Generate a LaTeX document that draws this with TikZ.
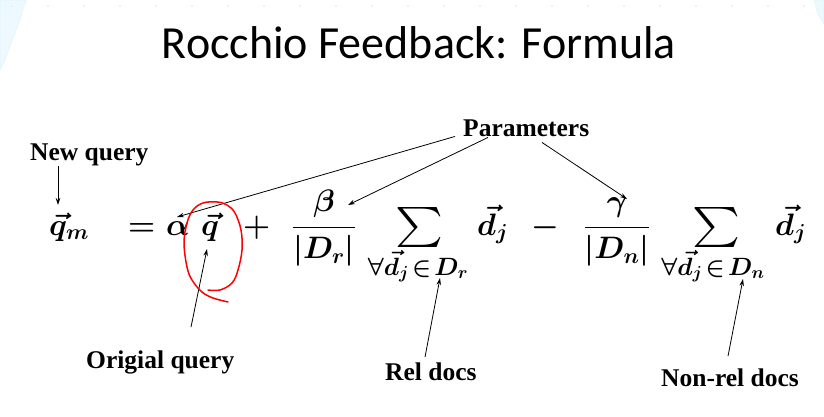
\documentclass[tikz,border=0pt]{standalone}
\usepackage{fix-cm}
\usepackage{amsmath}
\usepackage{graphicx}
\usepackage{fontspec}
\setmainfont{Liberation Serif}
\newfontfamily\titlefont{Carlito}
\usetikzlibrary{arrows.meta}
\begin{document}
\begin{tikzpicture}[x=1pt,y=-1pt,
  lbl/.style={font=\fontsize{25.5}{28}\selectfont\bfseries, inner sep=0pt, anchor=base west},
  fm/.style={font=\fontsize{31}{36}\selectfont\boldmath, inner sep=0pt, anchor=base west},
  fmc/.style={fm, anchor=base},
  sumsym/.style={inner sep=0pt, anchor=north},
  subs/.style={font=\fontsize{25}{28}\selectfont\boldmath, inner sep=0pt, anchor=base},
  arr/.style={line width=0.8pt, -{Stealth[length=7pt,width=4.5pt]}},
  loop/.style={red, line width=1.5pt, line cap=round, line join=round},
  deco/.style={fill=cyan!7, draw=cyan!12, line width=0.6pt},
  dot/.style={fill=black!10}]
\useasboundingbox (0,0) rectangle (824,417);
\fill[white] (0,0) rectangle (824,417);
% faint background decoration
\path[deco] (0,0) -- (26,0) -- (17,28) -- (4,62) -- (0,70) -- cycle;
\path[deco] (814,0) -- (824,0) -- (824,24) -- (818,14) -- cycle;
\foreach \i in {0,...,22} {\fill[dot] (12+36*\i,6) circle (0.9pt);}
% title
\node[font=\titlefont\fontsize{46}{50}\selectfont, anchor=base, inner sep=0pt] (title) at (419,59) {Rocchio Feedback: Formula};
% labels
\node[lbl] (newq) at (30,160) {New query};
\node[lbl] (params) at (463,136) {Parameters};
\node[lbl] (orig) at (86,368) {Origial query};
\node[lbl] (rel) at (385,380) {Rel docs};
\node[lbl] (nonrel) at (661,386) {Non-rel docs};
% formula
\node[fm] (qm) at (49,235) {$\vec{q}_m$};
\node[fm] (eq) at (128,235) {$=$};
\node[fm] (alpha) at (166,235) {$\alpha$};
\node[fm] (q) at (201,235) {$\vec{q}$};
\node[fm] (plus) at (243,235) {$+$};
\node[fmc] (frac1) at (324,235) {$\dfrac{\beta}{|D_r|}$};
\node[sumsym] (sum1) at (419,207) {\resizebox*{48pt}{40pt}{$\sum$}};
\node[subs] (sub1) at (418,275) {$\forall\vec{d}_j\mkern2mu{\in}\mkern2mu D_r$};
\node[fm] (dj1) at (477,235) {$\vec{d}_j$};
\node[fm] (minus) at (531,235) {$-$};
\node[fmc] (frac2) at (617,235) {$\dfrac{\gamma}{|D_n|}$};
\node[sumsym] (sum2) at (716,207) {\resizebox*{48pt}{40pt}{$\sum$}};
\node[subs] (sub2) at (713,275) {$\forall\vec{d}_j\mkern2mu{\in}\mkern2mu D_n$};
\node[fm] (dj2) at (775,235) {$\vec{d}_j$};
% arrow tips
\coordinate (tipqm) at (58,205);
\coordinate (tipalpha) at (177,217);
\coordinate (tipbeta) at (348,205);
\coordinate (tipgamma) at (627,199);
\coordinate (tipq) at (207,249);
\coordinate (tiprel) at (440,278);
\coordinate (tipnon) at (743,279);
% connectors
\draw[arr] ([xshift=28pt]newq.south west) -- (tipqm);
\draw[arr] ([xshift=-8pt]params.south west) -- (tipalpha);
\draw[arr] ([xshift=25pt,yshift=-1pt]params.south west) -- (tipbeta);
\draw[arr] ([xshift=79pt,yshift=-6pt]params.south west) -- (tipgamma);
\draw[arr] ([xshift=105pt,yshift=23pt]orig.north west) -- (tipq);
\draw[arr] ([xshift=40pt,yshift=5pt]rel.north west) -- (tiprel);
\draw[arr] ([xshift=67pt,yshift=12pt]nonrel.north west) -- (tipnon);
% red hand-drawn loop round q
\draw[loop] plot[smooth, tension=0.6] coordinates {(208,290) (220,290) (232,283) (238,270) (242,250) (241,230) (235,213) (227,205) (217,202) (203,203) (193,210) (187,223) (184,243) (187,267) (192,280) (202,292) (213,298) (228,302)};
\end{tikzpicture}
\end{document}
